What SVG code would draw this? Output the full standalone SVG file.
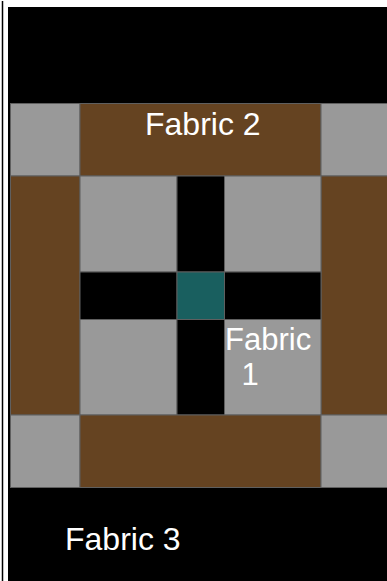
<svg xmlns="http://www.w3.org/2000/svg" width="387" height="581" viewBox="0 0 387 581">
<style>
.c{stroke:#5f5f5f;stroke-width:1}
.g{fill:#999999}
.b{fill:#654321}
.k{fill:#000000}
.t{fill:#195f5f}
.lbl{font-family:"Liberation Sans",Arial,sans-serif;font-size:32px;fill:#ffffff}
</style>
<rect x="0" y="0" width="387" height="581" fill="#ffffff"/>
<line x1="2.5" y1="1" x2="2.5" y2="581" stroke="#000" stroke-width="1.5"/>
<rect id="background" x="8" y="7" width="379" height="574" fill="#000"/>
<g id="row1">
<rect class="c g" x="10.5" y="103.5" width="69.5" height="72.5"/>
<rect class="c b" x="80" y="103.5" width="241" height="72.5"/>
<rect class="c g" x="321" y="103.5" width="68" height="72.5"/>
</g>
<g id="sides">
<rect class="c b" x="10.5" y="176" width="69.5" height="239"/>
<rect class="c b" x="321" y="176" width="68" height="239"/>
</g>
<g id="center">
<rect class="c g" x="80" y="176" width="97" height="96"/>
<rect class="c k" x="177" y="176" width="47.5" height="96"/>
<rect class="c g" x="224.5" y="176" width="96.5" height="96"/>
<rect class="c k" x="80" y="272" width="97" height="47.5"/>
<rect class="c t" x="177" y="272" width="47.5" height="47.5"/>
<rect class="c k" x="224.5" y="272" width="96.5" height="47.5"/>
<rect class="c g" x="80" y="319.5" width="97" height="95.5"/>
<rect class="c k" x="177" y="319.5" width="47.5" height="95.5"/>
<rect class="c g" x="224.5" y="319.5" width="96.5" height="95.5"/>
</g>
<g id="row5">
<rect class="c g" x="10.5" y="415" width="69.5" height="72.5"/>
<rect class="c b" x="80" y="415" width="241" height="72.5"/>
<rect class="c g" x="321" y="415" width="68" height="72.5"/>
</g>
<g id="labels">
<text class="lbl" x="145" y="135">Fabric 2</text>
<text class="lbl" x="225" style="font-size:31px"><tspan x="225" y="350">Fabric</tspan><tspan x="241.5" y="385">1</tspan></text>
<text class="lbl" x="65" y="550">Fabric 3</text>
</g>
</svg>
